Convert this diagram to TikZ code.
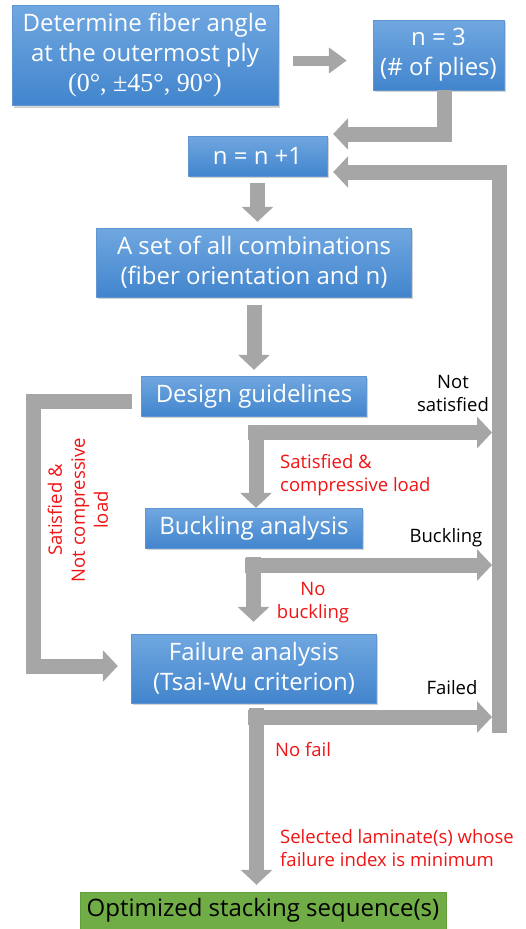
\documentclass[tikz,border=0pt]{standalone}
\usepackage{fontspec}
\setmainfont{Open Sans}
\newfontfamily\mathlike{Liberation Serif}
\usetikzlibrary{arrows.meta, shadows}

\definecolor{boxtop}{RGB}{112,167,224}
\definecolor{boxbot}{RGB}{66,133,205}
\definecolor{boxline}{RGB}{95,150,210}
\definecolor{goodgreen}{RGB}{112,173,71}
\definecolor{goodline}{RGB}{100,160,62}
\definecolor{arrgray}{RGB}{166,166,166}
\definecolor{notered}{RGB}{240,20,20}

\tikzset{
    procnode/.style={
        rectangle,
        top color=boxtop, % lighter at the top
        bottom color=boxbot, % darker at the bottom
        draw=boxline,
        drop shadow={opacity=0.35, shadow xshift=1.5pt, shadow yshift=-2pt},
        inner sep=0,
        text=white,
        align=center,
        font=\fontsize{24}{30}\selectfont
    },
    endnode/.style={
        rectangle,
        fill=goodgreen, % green result box
        draw=goodline,
        inner sep=0,
        text=black,
        align=center,
        font=\fontsize{24}{30}\selectfont
    },
    flow/.style={
        draw=arrgray,
        line width=15pt, % broad gray arrows
        -{Triangle[length=15pt, width=31pt]}
    },
    flowthin/.style={
        flow,
        line width=10pt,
        -{Triangle[length=18pt, width=25pt]}
    },
    note/.style={
        inner sep=0,
        align=center,
        font=\fontsize{18.5}{23}\selectfont
    },
    yesnote/.style={
        note,
        text=notered
    }
}

\begin{document}
\begin{tikzpicture}[x=1pt, y=-1pt]
\useasboundingbox (0,0) rectangle (525,929);

% process boxes
\node[procnode, minimum width=266pt, minimum height=100pt] (angle) at (145,55.5)
    {Determine fiber angle\\at the outermost ply\\{\mathlike\fontsize{26}{30}\selectfont (0°, ±45°, 90°)}};
\node[procnode, minimum width=131pt, minimum height=70pt] (plies) at (438.5,55)
    {n = 3\\(\# of plies)};
\node[procnode, minimum width=139pt, minimum height=40pt] (inc) at (257.5,156) {n = n +1};
\node[procnode, minimum width=315pt, minimum height=69pt] (comb) at (254,262.5)
    {A set of all combinations\\(fiber orientation and n)};
\node[procnode, minimum width=225pt, minimum height=40pt] (guide) at (254,396) {Design guidelines};
\node[procnode, minimum width=217pt, minimum height=40pt] (buck) at (254,528) {Buckling analysis};
\node[procnode, minimum width=245pt, minimum height=69pt] (fail) at (254,668.5)
    {Failure analysis\\(Tsai-Wu criterion)};
\node[endnode, minimum width=366pt, minimum height=37pt] (opt) at (263,910.5)
    {Optimized stacking sequence(s)};

% junctions of the branches
\coordinate (loopbot) at (499,733);
\coordinate (j1) at (256,432.5);
\coordinate (j2) at (253.5,565);
\coordinate (j3) at (256.5,717);
\coordinate (lft) at (33,666);

% main flow
\draw[flowthin, shorten <=15pt, shorten >=26pt] ([yshift=-5pt]angle.east) -- ([yshift=-5pt]angle.east -| plies.west);
\draw[flow] ([xshift=5.5pt]plies.south) |- ([xshift=6pt, yshift=22pt]inc.east);
\draw[flow, shorten <=7pt, shorten >=6pt] (inc.south) -- (inc.south |- comb.north);
\draw[flow, shorten <=8pt, shorten >=6pt] (comb) -- (guide);
\draw[flow] (loopbot) |- ([xshift=6pt, yshift=-16pt]inc.east);

% design guidelines
\draw[flow, shorten >=7pt] ([xshift=-8.5pt]j1) -- (j1 -| loopbot);
\draw[flow] ([yshift=8pt]j1) -- (j1 |- buck.north);
\draw[flow] ([xshift=-9.5pt, yshift=-5pt]guide.west) -| (lft) -- ([xshift=-13.5pt]lft -| fail.west);

% buckling
\draw[flow, shorten >=7pt] ([xshift=-8.5pt]j2) -- (j2 -| loopbot);
\draw[flow, shorten >=12pt] ([yshift=8pt]j2) -- (j2 |- fail.north);

% failure
\draw[flow, shorten >=7pt] ([xshift=-8.5pt]j3) -- (j3 -| loopbot);
\draw[flow, shorten >=7pt] ([yshift=9pt]j3) -- (j3 |- opt.north);

% labels
\node[note] (nsat) at (453,393.5) {Not\\satisfied};
\node[yesnote, anchor=west, align=left] (scomp) at (280,475.5) {Satisfied \&\\compressive load};
\node[yesnote, rotate=90] (sncl) at (78,510) {Satisfied \&\\Not compressive\\load};
\node[note] (bl) at (446,538) {Buckling};
\node[yesnote] (nobl) at (313,602.5) {No\\buckling};
\node[note] (fl) at (452,688) {Failed};
\node[yesnote, anchor=west] (nofl) at (275,750) {No fail};
\node[yesnote, anchor=west, align=left] (sel) at (280,848) {Selected laminate(s) whose\\failure index is minimum};
\end{tikzpicture}
\end{document}
